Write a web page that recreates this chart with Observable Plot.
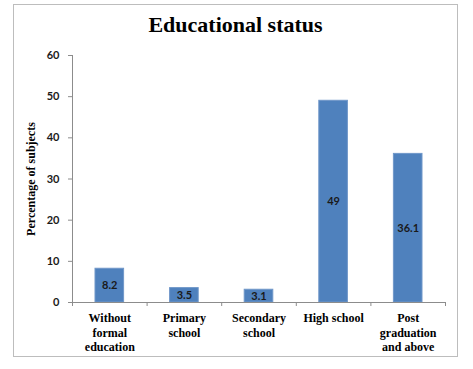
<!DOCTYPE html>
<html>
<head>
<meta charset="utf-8">
<script src="https://cdn.jsdelivr.net/npm/d3@7"></script>
<script src="https://cdn.jsdelivr.net/npm/@observablehq/plot@0.6"></script>
<style>
  body { margin: 0; background: #fff; }
  #wrap { position: relative; width: 473px; height: 369px; overflow: hidden; }
  #border { position: absolute; left: 13px; top: 4px; width: 445px; height: 353px; border: 1px solid #bdbdbd; box-sizing: border-box; }
  #title { position: absolute; left: 13px; width: 445px; top: 12px; text-align: center; font-family: "Liberation Serif", serif; font-weight: bold; font-size: 22px; color: #000; }
  #chart { position: absolute; left: 0; top: 45px; }
</style>
</head>
<body>
<div id="wrap">
  <div id="border"></div>
  <div id="title">Educational status</div>
  <div id="chart"></div>
</div>
<script>
const categories = ["Without formal education", "Primary school", "Secondary school", "High school", "Post graduation and above"];
const categoryLabels = ["Without\nformal\neducation", "Primary\nschool", "Secondary\nschool", "High school", "Post\ngraduation\nand above"];
const values = [8.2, 3.5, 3.1, 49, 36.1];
const valueLabels = ["8.2", "3.5", "3.1", "49", "36.1"];
const yTicks = [0, 10, 20, 30, 40, 50, 60];
const yTitle = "Percentage of subjects";

const rows = categories.map((c, i) => ({i, category: c, label: categoryLabels[i], value: values[i], text: valueLabels[i]}));
const bounds = d3.range(0, categories.length + 1);

const serif = "Liberation Serif, serif";
const sans = "Lato, Liberation Sans, sans-serif";

const chart = Plot.plot({
  width: 473,
  height: 315,
  marginLeft: 72,
  marginRight: 28,
  marginTop: 10,
  marginBottom: 58,
  x: {type: "linear", domain: [0, categories.length], axis: null},
  y: {domain: [0, 60], axis: null},
  marks: [
    Plot.rectY(rows, {x1: "i", x2: d => d.i + 1, y: "value", fill: "#4f81bd", stroke: "#7097c9", strokeWidth: 1, insetLeft: 23, insetRight: 23}),
    Plot.text(rows, {x: d => d.i + 0.5, y: d => d.value / 2, text: "text", fontFamily: sans, fontWeight: "bold", fontSize: 11, fill: "#1a1a1a"}),
    Plot.ruleY([0], {stroke: "#8c8c8c"}),
    Plot.ruleX([0], {y1: 0, y2: 60, stroke: "#8c8c8c"}),
    Plot.axisY(yTicks, {tickSize: 4, tickPadding: 9, label: null, fontFamily: sans, fontWeight: "bold", fontSize: 11, stroke: "#8c8c8c", fill: "#1a1a1a"}),
    Plot.axisX(bounds, {tickSize: 4, tickFormat: () => "", label: null, stroke: "#8c8c8c"}),
    Plot.axisX(rows.map(d => d.i + 0.5), {tickSize: 0, tickPadding: 9, tickFormat: v => categoryLabels[Math.floor(v)], label: null, fontFamily: serif, fontWeight: "bold", fontSize: 12, lineHeight: 1.22, fill: "#000"}),
    Plot.text([yTitle], {frameAnchor: "left", textAnchor: "middle", rotate: -90, dx: -41, fontFamily: serif, fontWeight: "bold", fontSize: 12, fill: "#000"})
  ]
});
document.getElementById("chart").appendChild(chart);
</script>
</body>
</html>
